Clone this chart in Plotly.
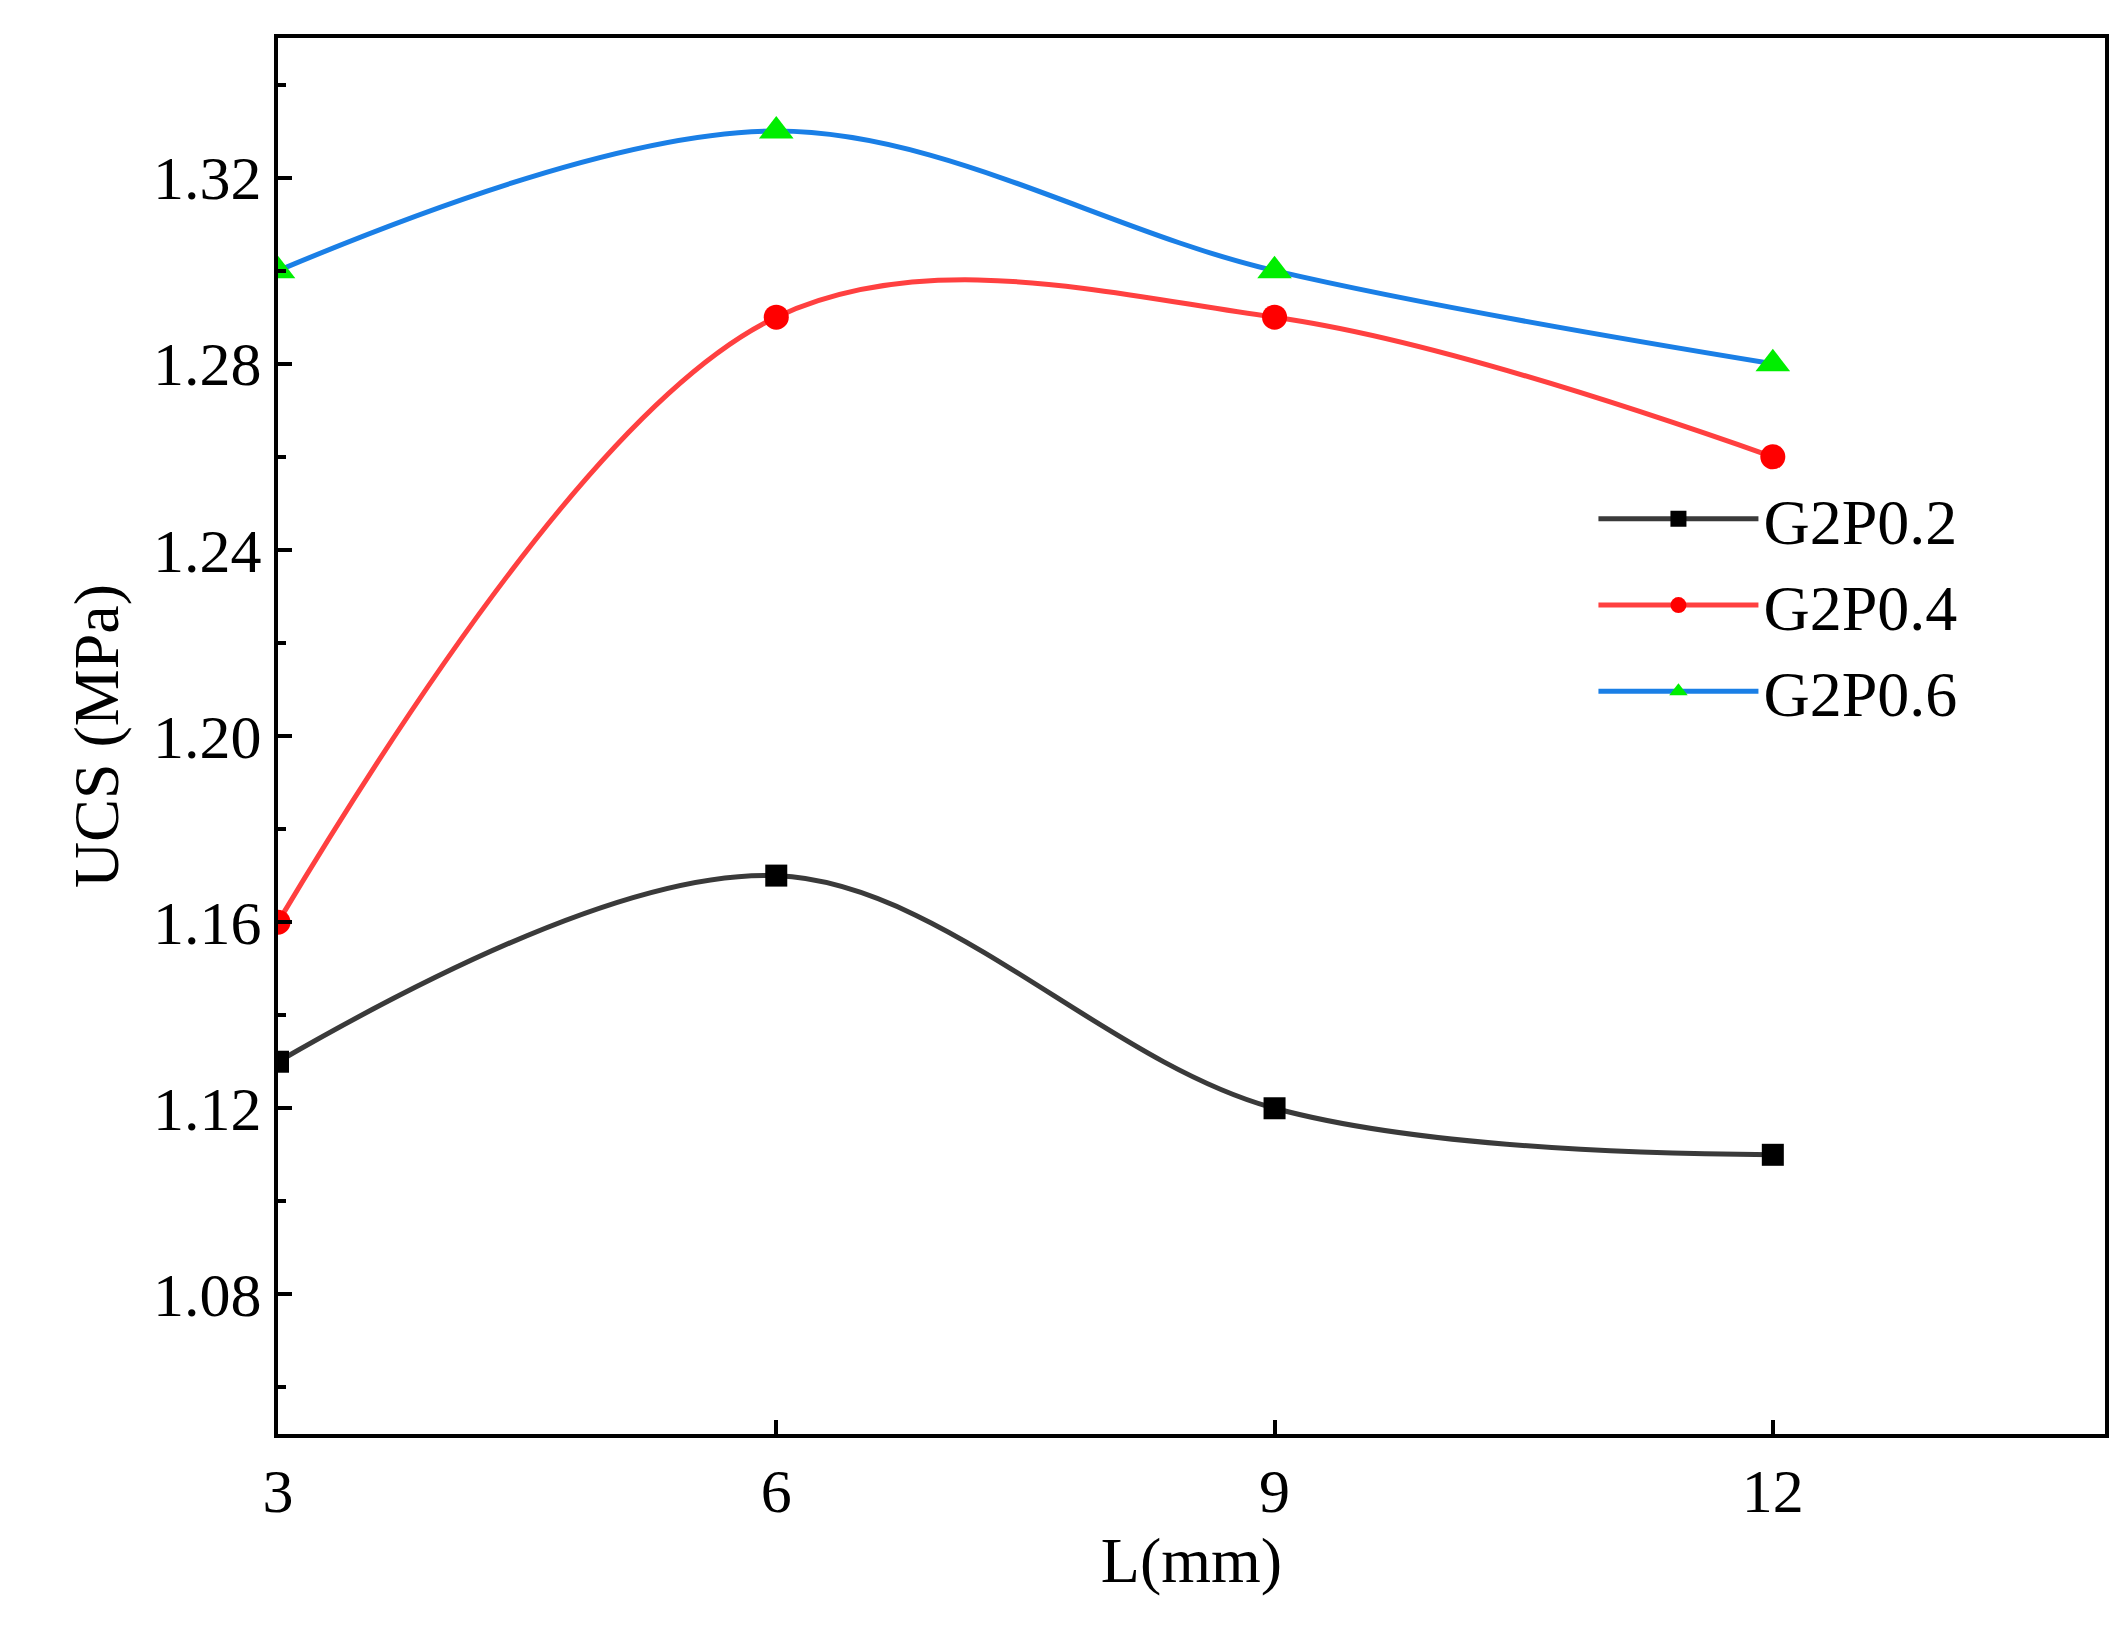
import plotly.graph_objects as go

L_mm = [3, 6, 9, 12]
g2p02 = [1.13, 1.17, 1.12, 1.11]
g2p04 = [1.16, 1.29, 1.29, 1.26]
g2p06 = [1.30, 1.33, 1.30, 1.28]

FONT = "Liberation Serif"

fig = go.Figure()
fig.add_trace(go.Scatter(x=L_mm, y=g2p02, name="G2P0.2", mode="lines+markers",
                         line=dict(color="#3a3a3a", width=5, shape="spline", smoothing=1.0),
                         marker=dict(symbol="square", size=22, color="black")))
fig.add_trace(go.Scatter(x=L_mm, y=g2p04, name="G2P0.4", mode="lines+markers",
                         line=dict(color="#ff4040", width=5, shape="spline", smoothing=1.0),
                         marker=dict(symbol="circle", size=25, color="red")))
fig.add_trace(go.Scatter(x=L_mm, y=g2p06, name="G2P0.6", mode="lines+markers",
                         line=dict(color="#1a7fe6", width=5, shape="spline", smoothing=1.0),
                         marker=dict(symbol="triangle-up", size=30, color="#00ee00")))

axis = dict(showline=True, linecolor="black", linewidth=4, mirror=True, showgrid=False,
            zeroline=False, ticks="inside", ticklen=14, tickwidth=4, tickcolor="black",
            tickfont=dict(family=FONT, size=62, color="black"))
fig.update_xaxes(**axis, range=[3, 14], tickvals=L_mm,
                 title=dict(text="L(mm)", font=dict(family=FONT, size=64, color="black"), standoff=10))
fig.update_yaxes(**axis, range=[1.05, 1.35], tickvals=[1.08, 1.12, 1.16, 1.20, 1.24, 1.28, 1.32],
                 ticktext=["1.08", "1.12", "1.16", "1.20", "1.24", "1.28", "1.32"],
                 minor=dict(dtick=0.02, ticks="inside", ticklen=8, tickwidth=4, tickcolor="black"),
                 title=dict(text="UCS (MPa)", font=dict(family=FONT, size=64, color="black"), standoff=15))
fig.update_layout(
    width=2128, height=1633, plot_bgcolor="white", paper_bgcolor="white",
    margin=dict(l=270, r=31, t=30, b=207),
    legend=dict(x=0.72, y=0.69, xanchor="left", yanchor="top", bgcolor="rgba(0,0,0,0)",
                font=dict(family=FONT, size=64, color="black"), itemwidth=160, tracegroupgap=12),
)
fig.write_html("out.html")
